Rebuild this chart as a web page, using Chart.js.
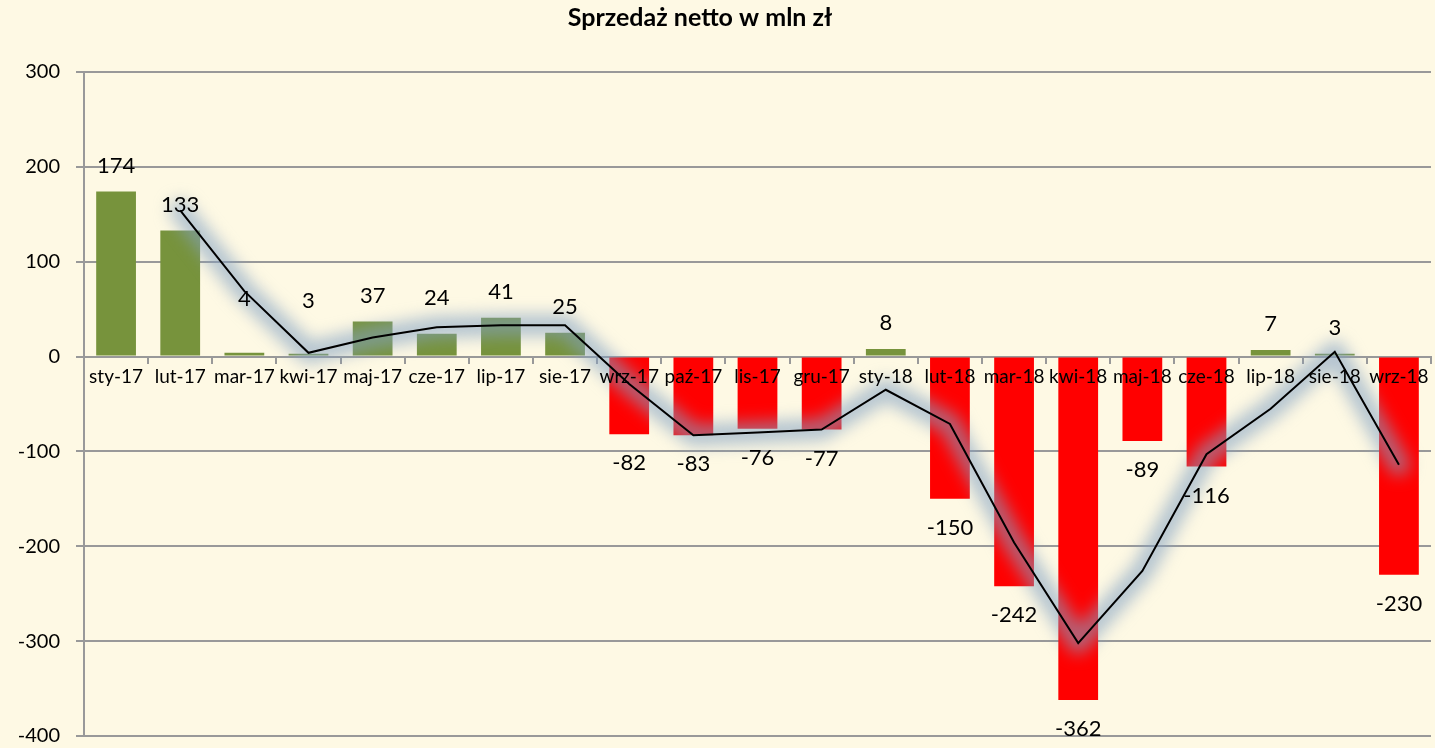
<!DOCTYPE html>
<html>
<head>
<meta charset="utf-8">
<title>Sprzedaż netto w mln zł</title>
<script src="https://cdn.jsdelivr.net/npm/chart.js"></script>
<style>
  body { margin: 0; background: #fef9e4; }
  #wrap { width: 1435px; height: 748px; }
</style>
</head>
<body>
<div id="wrap"><canvas id="chart" width="1435" height="748"></canvas></div>
<script>
// data
const months = ['sty-17', 'lut-17', 'mar-17', 'kwi-17', 'maj-17', 'cze-17', 'lip-17', 'sie-17',
  'wrz-17', 'paź-17', 'lis-17', 'gru-17', 'sty-18', 'lut-18', 'mar-18', 'kwi-18', 'maj-18',
  'cze-18', 'lip-18', 'sie-18', 'wrz-18'];
const sales = [174, 133, 4, 3, 37, 24, 41, 25, -82, -83, -76, -77, 8, -150, -242, -362, -89,
  -116, 7, 3, -230];
// trend line (2-month average, as drawn)
const trend = [null, 154, 69, 4, 20, 31, 33, 33, -29, -83, -80, -77, -35, -71, -196, -302, -226,
  -103, -55, 5, -114];
const yTicks = [300, 200, 100, 0, -100, -200, -300, -400];
const title = 'Sprzedaż netto w mln zł';

const FONT = 'Lato, "Open Sans", sans-serif';
const GREEN = '#77933c';
const RED = '#ff0000';
const GRID = '#999999';

// soft blue glow under the trend line
const glow = {
  id: 'glow',
  beforeDatasetDraw(chart, args) {
    if (chart.data.datasets[args.index].type !== 'line') return;
    const pts = args.meta.data.filter(p => !p.skip);
    const ctx = chart.ctx;
    ctx.save();
    ctx.filter = 'blur(8px)';
    ctx.strokeStyle = 'rgba(130,160,195,0.6)';
    ctx.lineWidth = 22;
    ctx.lineJoin = 'round';
    ctx.lineCap = 'round';
    ctx.beginPath();
    pts.forEach((p, i) => i ? ctx.lineTo(p.x, p.y) : ctx.moveTo(p.x, p.y));
    ctx.stroke();
    ctx.restore();
  }
};

// value labels above / below bars, plus the title (a bit left of centre, like the original)
const barLabels = {
  id: 'barLabels',
  afterDraw(chart, args, opts) {
    const meta = chart.getDatasetMeta(1);
    const ctx = chart.ctx;
    ctx.save();
    ctx.fillStyle = '#000';
    ctx.textAlign = 'center';
    ctx.textBaseline = 'middle';
    ctx.font = 'bold 25px ' + FONT;
    ctx.fillText(title, 700, 18);
    ctx.font = '22px ' + FONT;
    meta.data.forEach((bar, i) => {
      const v = sales[i];
      const nudge = opts.nudge[i] || 0;
      const y = v >= 0 ? bar.y - 26 + nudge : bar.y + 29;
      ctx.fillText(String(v), bar.x, y);
    });
    ctx.restore();
  }
};

new Chart(document.getElementById('chart'), {
  type: 'bar',
  data: {
    labels: months,
    datasets: [
      {
        type: 'line',
        data: trend,
        borderColor: '#000',
        borderWidth: 2,
        pointRadius: 0,
        tension: 0,
        spanGaps: false,
        order: 0
      },
      {
        type: 'bar',
        data: sales,
        backgroundColor: ctx => ctx.raw >= 0 ? GREEN : RED,
        categoryPercentage: 0.62,
        barPercentage: 1,
        order: 1
      }
    ]
  },
  options: {
    responsive: false,
    animation: false,
    layout: { padding: { left: 0, right: 4, top: 72, bottom: 11 } },
    plugins: {
      legend: { display: false },
      tooltip: { enabled: false },
      title: { display: false },
      barLabels: { nudge: { 2: -28, 3: -27, 5: -10 } }
    },
    scales: {
      x: {
        position: { y: 0 },
        offset: true,
        afterFit: s => { s.height = 0; },
        grid: { display: true, drawOnChartArea: false, offset: true, tickLength: 6, color: GRID, lineWidth: 2 },
        border: { color: GRID, width: 2 },
        ticks: { z: 1, color: '#000', font: { family: FONT, size: 19 }, padding: 3, maxRotation: 0, autoSkip: false }
      },
      y: {
        min: -400,
        max: 300,
        afterBuildTicks: s => { s.ticks = yTicks.map(v => ({ value: v })); },
        afterFit: s => { s.width = 84; s.paddingTop = 12; s.paddingBottom = 12; },
        grid: { color: GRID, lineWidth: 2, tickLength: 8 },
        border: { color: GRID, width: 2 },
        ticks: { color: '#000', font: { family: FONT, size: 20 }, padding: 16 }
      }
    }
  },
  plugins: [glow, barLabels]
});
</script>
</body>
</html>
